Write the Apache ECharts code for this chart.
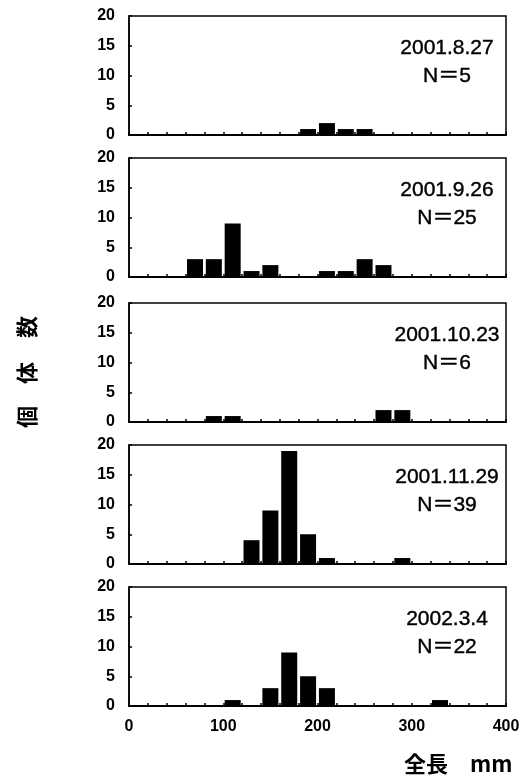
<!DOCTYPE html>
<html>
<head>
<meta charset="utf-8">
<script src="https://cdn.jsdelivr.net/npm/echarts@6/dist/echarts.min.js"></script>
<style>
  html, body { margin: 0; padding: 0; background: #fff; }
  #chart { width: 530px; height: 776px; }
</style>
</head>
<body>
<div id="chart"></div>
<script>
// Total-length classes (mm), 20 mm wide: midpoints of each class
const binCenters = [10, 30, 50, 70, 90, 110, 130, 150, 170, 190,
                    210, 230, 250, 270, 290, 310, 330, 350, 370, 390];

// Sampling dates, one panel each
const sampleDates = ['2001.8.27', '2001.9.26', '2001.10.23', '2001.11.29', '2002.3.4'];

// Number of individuals per length class
const counts0827 = [0,0,0,0,0,0,0,0,0,1,2,1,1,0,0,0,0,0,0,0];
const counts0926 = [0,0,0,3,3,9,1,2,0,0,1,1,3,2,0,0,0,0,0,0];
const counts1023 = [0,0,0,0,1,1,0,0,0,0,0,0,0,2,2,0,0,0,0,0];
const counts1129 = [0,0,0,0,0,0,4,9,19,5,1,0,0,0,1,0,0,0,0,0];
const counts0304 = [0,0,0,0,0,1,0,3,9,5,3,0,0,0,0,0,1,0,0,0];
const panelCounts = [counts0827, counts0926, counts1023, counts1129, counts0304];

// Axis tick labels
const yTicks = [0, 5, 10, 15, 20];
const xLabelTicks = [0, 100, 200, 300, 400];

const panelTops = [16, 158, 303, 445, 587];
const panelHeight = 119;
const gridLeft = 129;
const gridWidth = 377;

const chart = echarts.init(document.getElementById('chart'), null, { renderer: 'canvas' });

const grids = [], xAxes = [], yAxes = [], series = [], graphics = [];
const last = panelCounts.length - 1;

panelCounts.forEach((counts, i) => {
  grids.push({
    left: gridLeft, top: panelTops[i], width: gridWidth, height: panelHeight,
    show: true, borderColor: '#000', borderWidth: 1.5, backgroundColor: 'transparent'
  });
  xAxes.push({
    gridIndex: i, type: 'value', min: 0, max: 400, interval: 20,
    axisLine: { show: true, onZero: false, lineStyle: { color: '#000', width: 2 } },
    axisTick: { show: true, inside: true, length: 3, lineStyle: { color: '#000', width: 1.5 } },
    splitLine: { show: false },
    axisLabel: {
      show: i === last, margin: 13, color: '#000',
      fontFamily: 'Liberation Sans', fontWeight: 'bold', fontSize: 16,
      formatter: v => (xLabelTicks.indexOf(v) >= 0 ? String(v) : '')
    }
  });
  yAxes.push({
    gridIndex: i, type: 'value', min: yTicks[0], max: yTicks[yTicks.length - 1], interval: 5,
    axisLine: { show: true, lineStyle: { color: '#000', width: 1.5 } },
    axisTick: { show: true, inside: true, length: 3, lineStyle: { color: '#000', width: 1.5 } },
    splitLine: { show: false },
    axisLabel: {
      margin: 14, color: '#000',
      fontFamily: 'Liberation Sans', fontWeight: 'bold', fontSize: 16
    }
  });
  series.push({
    type: 'bar', xAxisIndex: i, yAxisIndex: i,
    barWidth: 16,
    itemStyle: { color: '#000' },
    silent: true,
    data: binCenters.map((c, k) => [c, counts[k]])
  });
  const total = counts.reduce((a, b) => a + b, 0);
  graphics.push({
    type: 'text', x: 447, y: panelTops[i] + 46,
    style: {
      text: sampleDates[i] + '\nN＝' + total,
      fill: '#000', stroke: '#000', lineWidth: 0.4,
      font: '21px "Liberation Sans", "Noto Sans CJK JP"',
      lineHeight: 28, align: 'center', verticalAlign: 'middle'
    }
  });
});

// Vertical axis title, one glyph per position, reading upward
const yTitleChars = ['個', '体', '数'];
const yTitleCenters = [417, 373, 327];
yTitleChars.forEach((ch, k) => {
  graphics.push({
    type: 'text', x: 27, y: yTitleCenters[k], rotation: Math.PI / 2,
    style: {
      text: ch, fill: '#000', font: 'bold 22px "Noto Sans CJK JP"',
      align: 'center', verticalAlign: 'middle'
    }
  });
});

// Horizontal axis title
graphics.push({
  type: 'text', x: 404, y: 764,
  style: {
    text: '全長　mm', fill: '#000', font: 'bold 22px "Noto Sans CJK JP"',
    align: 'left', verticalAlign: 'middle'
  }
});

chart.setOption({
  animation: false,
  backgroundColor: '#fff',
  grid: grids,
  xAxis: xAxes,
  yAxis: yAxes,
  series: series,
  graphic: graphics
});
</script>
</body>
</html>
